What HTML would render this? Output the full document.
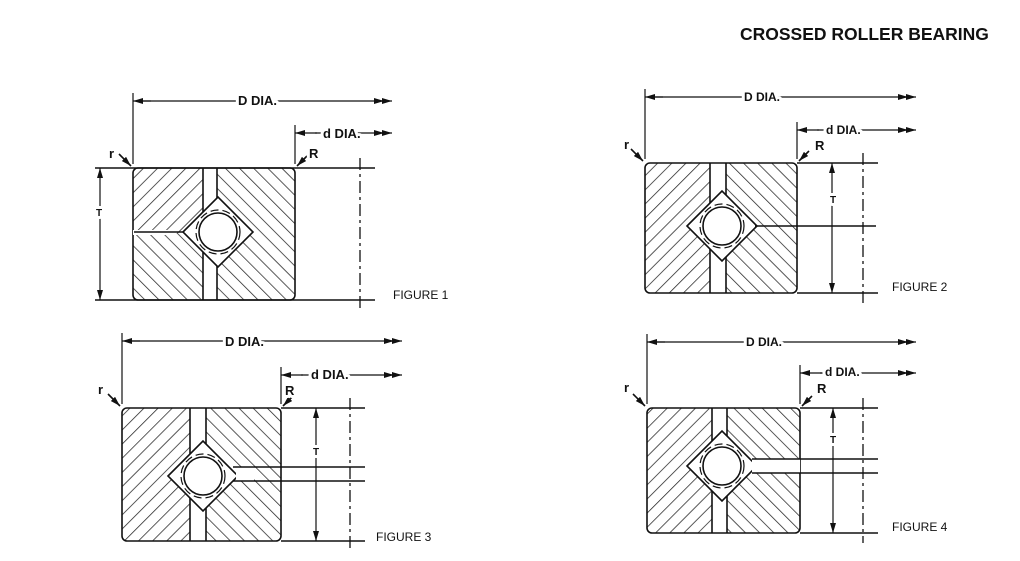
<!DOCTYPE html>
<html><head><meta charset="utf-8"><style>
body{margin:0;background:#fff;width:1020px;height:561px;overflow:hidden}
svg{display:block}
text{font-family:"Liberation Sans",sans-serif;fill:#111}
.b{font-weight:bold}
.w{stroke:#fff;stroke-width:6px;paint-order:stroke;stroke-linejoin:round}
</style></head><body>
<svg id="s" width="1020" height="561" viewBox="0 0 1020 561" xmlns="http://www.w3.org/2000/svg">
<defs>
<pattern id="h1" patternUnits="userSpaceOnUse" width="10" height="10" patternTransform="rotate(45)"><line x1="0" y1="0" x2="0" y2="10" stroke="#222" stroke-width="1.5"/></pattern>
<pattern id="h2" patternUnits="userSpaceOnUse" width="10" height="10" patternTransform="rotate(-45)"><line x1="0" y1="0" x2="0" y2="10" stroke="#222" stroke-width="1.5"/></pattern>
<marker id="a" markerWidth="10" markerHeight="6" refX="10" refY="3" orient="auto" markerUnits="userSpaceOnUse"><path d="M0,0L10,3L0,6z" fill="#111"/></marker>
</defs>
<text x="740" y="40" class="b" font-size="17.5">CROSSED ROLLER BEARING</text>
<g id="g" stroke="#111" fill="none" stroke-width="1.6"></g>
<g font-size="13" class="b w">
<text x="238" y="105">D DIA.</text><text x="323" y="138">d DIA.</text>
<text x="109" y="158">r</text><text x="309" y="158">R</text><text x="96" y="216" font-size="10">T</text>
<text x="744" y="101" font-size="12">D DIA.</text><text x="826" y="134" font-size="12">d DIA.</text>
<text x="624" y="149">r</text><text x="815" y="150">R</text><text x="830" y="203" font-size="10">T</text>
<text x="225" y="346">D DIA.</text><text x="311" y="379">d DIA.</text>
<text x="98" y="394">r</text><text x="285" y="395">R</text><text x="313" y="455" font-size="10">T</text>
<text x="746" y="346" font-size="12">D DIA.</text><text x="825" y="376" font-size="12">d DIA.</text>
<text x="624" y="392">r</text><text x="817" y="393">R</text><text x="830" y="443" font-size="10">T</text>
</g>
<g font-size="12">
<text x="393" y="299">FIGURE 1</text><text x="892" y="291">FIGURE 2</text>
<text x="376" y="541">FIGURE 3</text><text x="892" y="531">FIGURE 4</text>
</g>
</svg>
<script>
var g=document.getElementById('g'),NS='http://www.w3.org/2000/svg';
function el(t,a){var e=document.createElementNS(NS,t);for(var k in a)e.setAttribute(k,a[k]);g.appendChild(e);return e}
function L(x1,y1,x2,y2,o){var a={x1:x1,y1:y1,x2:x2,y2:y2};for(var k in o)a[k]=o[k];return el('line',a)}
function fig(f){
 var x0=f.x0,x1=f.x1,y0=f.y0,y1=f.y1,sx=f.sx,sw=f.sw,cx=f.cx,cy=f.cy,r=35;
 el('rect',{x:x0,y:y0,width:sx-x0,height:y1-y0,rx:5,fill:'url(#h1)',stroke:'none'});
 if(f.lowLeft) el('rect',{x:x0,y:f.lowLeft,width:sx-x0,height:y1-f.lowLeft,rx:5,fill:'#fff',stroke:'none'}),
   el('rect',{x:x0,y:f.lowLeft,width:sx-x0,height:y1-f.lowLeft,rx:5,fill:'url(#h2)',stroke:'none'});
 el('rect',{x:sx+sw,y:y0,width:x1-sx-sw,height:y1-y0,rx:5,fill:'url(#h2)',stroke:'none'});
 el('rect',{x:x0,y:y0,width:x1-x0,height:y1-y0,rx:5});
 el('rect',{x:sx,y:y0+1,width:sw,height:y1-y0-2,fill:'#fff',stroke:'none'});
 L(sx,y0,sx,y1);L(sx+sw,y0,sx+sw,y1);
 el('polygon',{points:(cx-r)+','+cy+' '+cx+','+(cy-r)+' '+(cx+r)+','+cy+' '+cx+','+(cy+r),fill:'#fff'});
 el('circle',{cx:cx,cy:cy,r:19,fill:'#fff'});
 el('circle',{cx:cx,cy:cy,r:22,'stroke-dasharray':'8 4','stroke-width':1.2});
 if(f.split) {el('rect',{x:f.split[0],y:f.split[1],width:f.split[2]-f.split[0],height:f.split[3]-f.split[1],fill:'#fff',stroke:'none'});}
 if(f.hl) f.hl.forEach(function(h){L(h[0],h[1],h[2],h[1])});
 L(x0,y0-4,x0,f.Dy-8,{'stroke-width':1.2});L(x1,y0-4,x1,f.dy-8,{'stroke-width':1.2});
 L(x0+8,f.Dy,f.De,f.Dy,{'stroke-width':1.2,'marker-end':'url(#a)'});
 L(x0+18,f.Dy,x0,f.Dy,{'stroke-width':1.2,'marker-end':'url(#a)'});
 L(f.De-18,f.Dy,f.De-8,f.Dy,{'stroke-width':1.2,'marker-end':'url(#a)'});
 L(x1+22,f.dy,x1,f.dy,{'stroke-width':1.2,'marker-end':'url(#a)'});
 L(x1+20,f.dy,f.De,f.dy,{'stroke-width':1.2,'marker-end':'url(#a)'});
 L(f.De-18,f.dy,f.De-8,f.dy,{'stroke-width':1.2,'marker-end':'url(#a)'});
 L(f.ex0,y0,f.ex1,y0,{'stroke-width':1.4});L(f.ex0,y1,f.ex1,y1,{'stroke-width':1.4});
 L(f.tx,(y0+y1)/2,f.tx,y0,{'stroke-width':1.2,'marker-end':'url(#a)'});
 L(f.tx,(y0+y1)/2,f.tx,y1,{'stroke-width':1.2,'marker-end':'url(#a)'});
 L(f.cl,y0-10,f.cl,y1+10,{'stroke-width':1.3,'stroke-dasharray':'12 4 3 4'});
 L(x0-14,y0-14,x0-2,y0-2,{'stroke-width':1.6,'marker-end':'url(#a)'});
 L(x1+12,y0-12,x1+2,y0-2,{'stroke-width':1.6,'marker-end':'url(#a)'});
}
fig({x0:133,x1:295,y0:168,y1:300,sx:203,sw:14,cx:218,cy:232,Dy:101,De:392,dy:133,ex0:95,ex1:375,tx:100,cl:360,
 lowLeft:233,split:[133,230,175,235],hl:[[134,232,184]]});
fig({x0:645,x1:797,y0:163,y1:293,sx:710,sw:16,cx:722,cy:226,Dy:97,De:916,dy:130,ex0:797,ex1:878,tx:832,cl:863,
 hl:[[755,226,876]]});
fig({x0:122,x1:281,y0:408,y1:541,sx:190,sw:16,cx:203,cy:476,Dy:341,De:402,dy:375,ex0:281,ex1:365,tx:316,cl:350,
 split:[236,467,254,481],hl:[[233,467,365],[233,481,365]]});
fig({x0:647,x1:800,y0:408,y1:533,sx:712,sw:15,cx:722,cy:466,Dy:342,De:916,dy:373,ex0:800,ex1:878,tx:833,cl:863,
 split:[752,459,800,473],hl:[[752,459,878],[752,473,878]]});
</script>
</body></html>
